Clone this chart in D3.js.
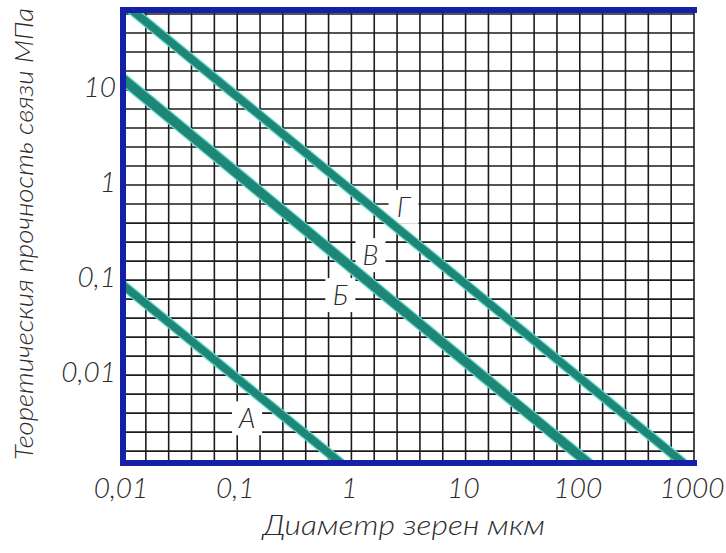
<!DOCTYPE html>
<html>
<head>
<meta charset="utf-8">
<script src="https://cdn.jsdelivr.net/npm/d3@7"></script>
<style>
  body { margin: 0; background: #fff; }
  text { font-family: Lato, "Liberation Sans", Arial, sans-serif; font-weight: 300; font-style: italic; fill: #2b2b2b; }
</style>
</head>
<body>
<svg id="chart" width="726" height="553"></svg>
<script>
// series: grain diameter (um) -> theoretical bond strength (MPa), log-log
const seriesNames = ["Г", "В", "Б", "А"]
const seriesX = [[0.012, 800], [0.01, 120], [0.01, 115], [0.01, 0.8]]
const seriesY = [[69, 0.0012], [13.4, 0.0012], [12.6, 0.0012], [0.0886, 0.0012]]

// where the curve letters sit (data coords)
const labelX = [2.86, 1.47, 0.8, 0.122]
const labelY = [0.59, 0.183, 0.0695, 0.00352]

const xTicks = [0.01, 0.1, 1, 10, 100, 1000]
const xTickLabels = ["0,01", "0,1", "1", "10", "100", "1000"]
const yTicks = [0.01, 0.1, 1, 10]
const yTickLabels = ["0,01", "0,1", "1", "10"]

const xTitle = "Диаметр зерен мкм"
const yTitle = "Теоретическия прочность связи МПа"

const W = 726, H = 553
const plot = {left: 123, right: 694, top: 10, bottom: 463}

const svg = d3.select("#chart")

const x = d3.scaleLog().domain([0.01, 1000]).range([plot.left, plot.right])
const y = d3.scaleLog().domain([0.00119, 69.5]).range([plot.bottom, plot.top])

// grid: 5 cells per decade
const xGrid = d3.range(0, 26).map((i) => Math.pow(10, -2 + i * 0.2))
const yGrid = d3.range(0, 24).map((i) => Math.pow(10, -2.8 + i * 0.2))

const grid = svg.append("g").attr("class", "grid")
grid.selectAll("line.v").data(xGrid).enter().append("line")
  .attr("class", "v")
  .attr("x1", (d) => x(d)).attr("x2", (d) => x(d))
  .attr("y1", plot.top).attr("y2", plot.bottom)
  .attr("stroke", "#1c1c1c").attr("stroke-width", 1.6)
grid.selectAll("line.h").data(yGrid).enter().append("line")
  .attr("class", "h")
  .attr("x1", plot.left).attr("x2", plot.right)
  .attr("y1", (d) => y(d)).attr("y2", (d) => y(d))
  .attr("stroke", "#1c1c1c").attr("stroke-width", 1.6)

// white gaps behind the curve letters
const labels = seriesNames.map((n, i) => ({name: n, x: labelX[i], y: labelY[i]}))
svg.append("g").selectAll("rect").data(labels).enter().append("rect")
  .attr("x", (d) => x(d.x) - 15).attr("y", (d) => y(d.y) - 17)
  .attr("width", 30).attr("height", 34)
  .attr("fill", "#fff")

// curves
svg.append("defs").append("clipPath").attr("id", "plotclip")
  .append("rect")
  .attr("x", plot.left).attr("y", plot.top)
  .attr("width", plot.right - plot.left).attr("height", plot.bottom - plot.top)

const line = d3.line().x((d) => x(d[0])).y((d) => y(d[1]))
const curves = seriesNames.map((n, i) => seriesX[i].map((v, j) => [v, seriesY[i][j]]))

const cg = svg.append("g").attr("clip-path", "url(#plotclip)")
cg.selectAll("path.glow").data(curves).enter().append("path")
  .attr("class", "glow")
  .attr("d", line)
  .attr("fill", "none").attr("stroke", "#5fd6c8").attr("stroke-width", 10)
  .attr("stroke-linecap", "round")
cg.selectAll("path.core").data(curves).enter().append("path")
  .attr("class", "core")
  .attr("d", line)
  .attr("fill", "none").attr("stroke", "#1e8676").attr("stroke-width", 7.5)
  .attr("stroke-linecap", "round")

// curve letters
svg.append("g").selectAll("text").data(labels).enter().append("text")
  .attr("x", (d) => x(d.x)).attr("y", (d) => y(d.y))
  .attr("dy", "0.36em")
  .attr("text-anchor", "middle")
  .attr("font-size", 27)
  .text((d) => d.name)

// blue frame: top, left, bottom
const frame = svg.append("g")
  .attr("stroke", "#1420a6").attr("stroke-width", 6).attr("stroke-linecap", "square")
frame.append("line").attr("x1", plot.left).attr("x2", plot.right).attr("y1", plot.top).attr("y2", plot.top)
frame.append("line").attr("x1", plot.left).attr("x2", plot.left).attr("y1", plot.top).attr("y2", plot.bottom)
frame.append("line").attr("x1", plot.left).attr("x2", plot.right).attr("y1", plot.bottom).attr("y2", plot.bottom)

// tick labels
svg.append("g").selectAll("text").data(xTicks).enter().append("text")
  .attr("x", (d) => x(d) - 2).attr("y", plot.bottom + 25)
  .attr("dy", "0.36em")
  .attr("text-anchor", "middle")
  .attr("font-size", 28)
  .text((d, i) => xTickLabels[i])

svg.append("g").selectAll("text").data(yTicks).enter().append("text")
  .attr("x", plot.left - 7).attr("y", (d) => y(d) - 3)
  .attr("dy", "0.36em")
  .attr("text-anchor", "end")
  .attr("font-size", 28)
  .text((d, i) => yTickLabels[i])

// axis titles
svg.append("text")
  .attr("x", 404).attr("y", 525).attr("dy", "0.36em")
  .attr("text-anchor", "middle")
  .attr("font-size", 27)
  .attr("textLength", 282).attr("lengthAdjust", "spacingAndGlyphs")
  .text(xTitle)

svg.append("text")
  .attr("transform", "translate(24,234) rotate(-90)")
  .attr("dy", "0.36em")
  .attr("text-anchor", "middle")
  .attr("font-size", 26)
  .attr("textLength", 452).attr("lengthAdjust", "spacingAndGlyphs")
  .text(yTitle)
</script>
</body>
</html>
